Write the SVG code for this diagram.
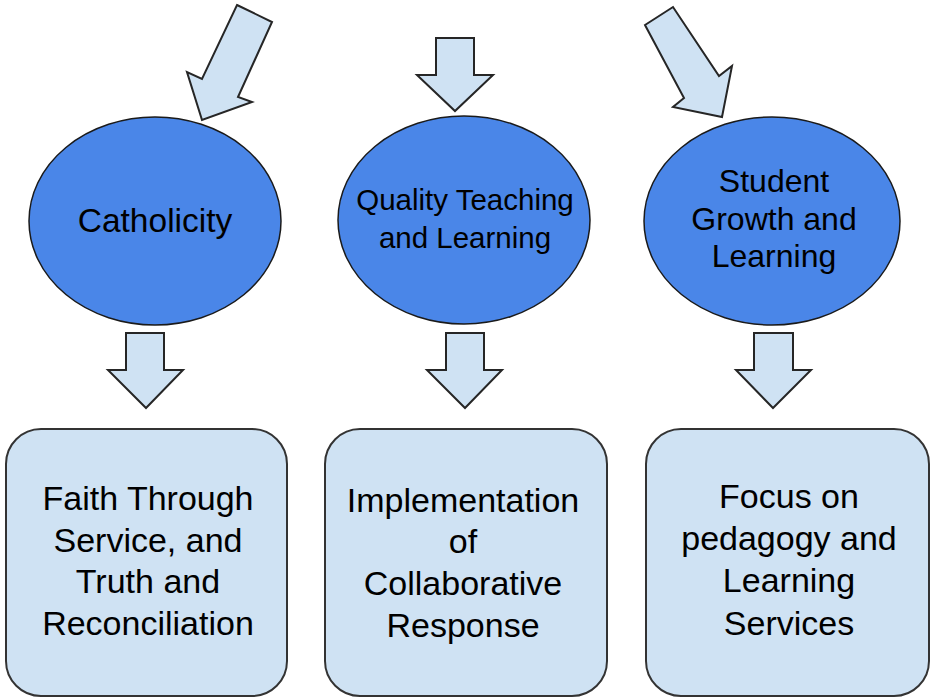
<svg xmlns="http://www.w3.org/2000/svg" width="932" height="698" viewBox="0 0 932 698">
<style>
.arrow{fill:#cfe2f3;stroke:#262626;stroke-width:2;stroke-linejoin:miter}
.ell{fill:#4a86e8;stroke:#1a1a1a;stroke-width:1.5}
.box{fill:#cfe2f3;stroke:#333333;stroke-width:2}
.t{font-family:"Liberation Sans",Arial,sans-serif;fill:#000000;text-anchor:middle}
</style>
<rect width="932" height="698" fill="#ffffff"/>
<g id="connectors">
<polygon class="arrow" points="237,5 272,22 238,97 252,102 202,120 187,72 202,79"/>
<polygon class="arrow" points="436,38 474,38 474,75 493,75 455,111 417,75 436,75"/>
<polygon class="arrow" points="645,25 673,7 719,76 732,66 722,117 673,107 684,98"/>
<polygon class="arrow" points="126,333 164,333 164,370 183,370 146,408 108,370 126,370"/>
<polygon class="arrow" points="446,333 484,333 484,370 502,370 465,408 427,370 446,370"/>
<polygon class="arrow" points="754,333 793,333 793,370 811,370 773,408 736,370 754,370"/>
</g>
<g id="catholicity">
<ellipse class="ell" cx="155" cy="221" rx="126" ry="104"/>
<text class="t" x="155" y="232" font-size="33.5">Catholicity</text>
</g>
<g id="quality">
<ellipse class="ell" cx="464" cy="220" rx="126" ry="104"/>
<text class="t" x="465" y="210" font-size="29.5">Quality Teaching</text>
<text class="t" x="465" y="248" font-size="29.5">and Learning</text>
</g>
<g id="student">
<ellipse class="ell" cx="772" cy="221" rx="128" ry="104"/>
<text class="t" x="774" y="192" font-size="32">Student</text>
<text class="t" x="774" y="230" font-size="32">Growth and</text>
<text class="t" x="774" y="267" font-size="32">Learning</text>
</g>
<g id="faith">
<rect class="box" x="6" y="429" width="281" height="267" rx="35" ry="35"/>
<text class="t" x="148" y="510" font-size="34">Faith Through</text>
<text class="t" x="148" y="552" font-size="34">Service, and</text>
<text class="t" x="148" y="593" font-size="34">Truth and</text>
<text class="t" x="148" y="635" font-size="34">Reconciliation</text>
</g>
<g id="implementation">
<rect class="box" x="325" y="429" width="282" height="267" rx="35" ry="35"/>
<text class="t" x="463" y="512" font-size="34">Implementation</text>
<text class="t" x="463" y="553" font-size="34">of</text>
<text class="t" x="463" y="595" font-size="34">Collaborative</text>
<text class="t" x="463" y="637" font-size="34">Response</text>
</g>
<g id="focus">
<rect class="box" x="646" y="429" width="283" height="267" rx="35" ry="35"/>
<text class="t" x="789" y="508" font-size="34">Focus on</text>
<text class="t" x="789" y="550" font-size="34">pedagogy and</text>
<text class="t" x="789" y="592" font-size="34">Learning</text>
<text class="t" x="789" y="635" font-size="34">Services</text>
</g>
</svg>
